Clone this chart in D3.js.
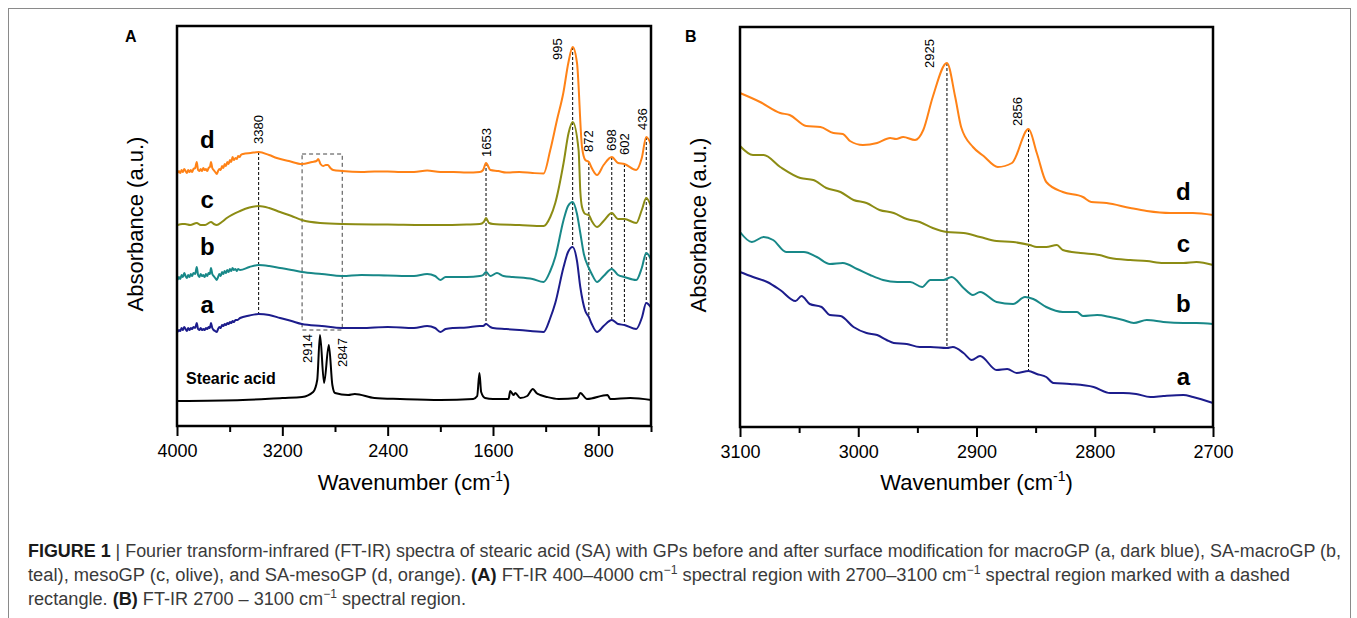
<!DOCTYPE html>
<html>
<head>
<meta charset="utf-8">
<script src="https://cdn.jsdelivr.net/npm/d3@7"></script>
<style>
body{margin:0;background:#fff;}
svg{display:block;font-family:"Liberation Sans",Arial,sans-serif;}
</style>
</head>
<body>
<svg id="chart" width="1357" height="618"></svg>
<script>
// ---- data: [wavenumber cm-1, absorbance a.u. (offset, arbitrary)] ----
const navyA = [[3995,94],[3985,96],[3975,95],[3965,98],[3955,96],[3945,99],[3935,97],[3925,95],[3915,98],[3905,96],[3895,98],[3885,97],[3875,99],[3862,98],[3850,103],[3840,97],[3830,96],[3820,98],[3810,96],[3800,97],[3790,96],[3780,98],[3770,97],[3760,99],[3750,98],[3742,103],[3732,98],[3722,96],[3710,95],[3698,94],[3688,97],[3678,99],[3668,98],[3658,101],[3648,100],[3638,102],[3628,101],[3618,103],[3608,102],[3598,104],[3588,103],[3578,105],[3568,104],[3556,106],[3540,106],[3521,108],[3450,110.5],[3380,112],[3300,111],[3217,108],[3130,105],[3052,102],[2900,100],[2746,98],[2600,98],[2400,99],[2200,98],[2100,100],[2040,98],[2000,94],[1960,97],[1900,98],[1800,98.5],[1700,100],[1675,100],[1653,102],[1620,99],[1600,98],[1500,97],[1400,96],[1216,94],[1165,108],[1127,123],[1064,159],[1030,174],[995,179],[962,165],[937,139],[899,115],[872,109],[850,102],[810,94],[760,100],[698,106],[650,102],[602,101],[512,97],[470,108],[436,123],[398,118]];
const tealA = [[3995,146],[3985,149],[3975,147],[3965,151],[3955,149],[3945,153],[3935,150],[3925,148],[3915,151],[3905,149],[3895,152],[3885,150],[3875,153],[3862,152],[3850,159],[3840,151],[3830,149],[3820,152],[3810,150],[3800,151],[3790,149],[3780,152],[3770,150],[3760,153],[3750,152],[3742,158],[3732,152],[3722,150],[3710,148],[3698,146],[3688,149],[3678,152],[3668,150],[3658,154],[3648,152],[3638,155],[3628,153],[3618,156],[3608,154],[3598,157],[3588,155],[3578,158],[3568,156],[3556,157],[3545,155],[3536,157],[3521,156],[3450,159],[3380,161],[3300,160],[3217,158],[3130,156],[3052,154],[2900,152],[2746,150],[2600,151],[2400,150.5],[2200,150],[2100,152],[2040,150],[2000,146],[1960,149],[1800,149],[1700,150],[1675,151],[1653,154],[1620,150],[1570,153],[1520,150],[1450,149],[1300,147],[1216,144],[1165,155],[1127,169],[1064,206],[1030,220],[995,224],[962,212],[937,193],[910,172],[872,158],[850,152],[810,144],[760,150],[698,157],[650,151],[602,149],[512,146],[470,158],[436,173],[398,166]];
const oliveA = [[3995,201],[3960,202],[3939,202],[3900,201],[3850,203],[3820,201],[3787,201],[3742,204],[3720,202],[3698,201],[3660,204],[3622,208],[3521,215],[3450,218.5],[3380,220],[3300,218],[3217,214],[3130,210],[3052,206],[2913,203],[2746,202],[2400,201.5],[2000,201],[1800,201.5],[1700,202],[1670,204],[1653,208],[1630,203],[1600,202],[1400,201],[1216,200],[1165,209],[1127,223],[1064,263],[1026,293],[995,304],[950,276],[937,235],[924,219],[899,212],[872,211],[850,205],[810,199],[760,205],[698,213],[650,207],[602,207],[512,203],[470,216],[436,228],[398,219]];
const orangeA = [[3995,253],[3985,255],[3975,253],[3965,256],[3955,254],[3945,257],[3935,255],[3925,253],[3915,256],[3905,254],[3895,256],[3885,254],[3875,257],[3862,258],[3850,264],[3840,256],[3830,255],[3820,257],[3810,255],[3800,258],[3790,256],[3780,257],[3770,255],[3760,258],[3750,259],[3742,264],[3732,258],[3722,256],[3710,254],[3698,252],[3688,255],[3678,257],[3668,256],[3658,260],[3648,258],[3638,262],[3628,260],[3618,264],[3608,262],[3598,266],[3588,264],[3578,269],[3568,266],[3556,268],[3545,267],[3536,270],[3525,269],[3515,271],[3498,272],[3440,273],[3380,274],[3300,271],[3242,268],[3150,265],[3052,262],[2974,264],[2940,265],[2928,267],[2910,262],[2890,260],[2870,261],[2855,261],[2835,258],[2814,256],[2746,255],[2600,254],[2500,254.5],[2400,254.5],[2300,254],[2200,254],[2100,255.5],[2000,254],[1900,254],[1800,253.5],[1700,254],[1675,256],[1653,263],[1620,256],[1560,255],[1500,253.5],[1400,254],[1300,253],[1216,252.5],[1165,276],[1114,306],[1066,333],[1028,363],[995,379],[962,363],[924,279],[899,266],[872,264],[850,258],[810,251],[760,261],[698,269],[650,263],[602,262],[512,256],[470,268],[436,289],[398,281]];
const stearicA = [[3995,25],[3500,26],[3200,28],[3050,29],[2966,34],[2935,46],[2914,91],[2883,43],[2847,81],[2820,41],[2800,33],[2700,31],[2650,32],[2500,28],[2305,27],[2000,26],[1750,27],[1720,30],[1703,53],[1690,34],[1660,28],[1600,27],[1482,27],[1469,35],[1444,31],[1431,33],[1393,28],[1340,30],[1297,37],[1270,33],[1241,31],[1190,29],[1102,27],[960,28],[937,33],[886,27],[730,31],[709,27],[557,28],[398,26]];

const navyB = [[3100,155],[3089,150],[3077,145],[3066,137],[3053,126],[3048,131],[3041,123],[3031,120],[3024,112],[3015,111],[3004,100],[2993,94],[2984,92],[2976,87],[2970,84],[2959,83],[2948,80],[2939,80],[2925,79],[2920,80],[2911,74],[2904,67],[2897,71],[2883,57],[2874,58],[2866,54],[2856,56],[2849,53],[2841,50],[2835,44],[2821,43],[2801,40],[2787,34],[2776,34],[2765,33],[2753,30],[2742,31],[2725,32],[2717,30],[2700,24]];
const tealB = [[3100,195],[3090,185],[3080,190],[3072,187],[3061,175],[3046,175],[3035,170],[3024,163],[3013,164],[3001,158],[2990,152],[2979,147],[2967,145],[2956,145],[2946,140],[2939,147],[2928,147],[2921,150],[2911,139],[2903,132],[2897,135],[2883,125],[2869,123],[2859,130],[2852,128],[2841,120],[2827,115],[2815,115],[2810,111],[2798,112],[2787,110],[2776,107],[2767,104],[2756,107],[2742,105],[2725,104],[2714,104],[2700,103]];
const oliveB = [[3100,281],[3089,272],[3080,272],[3066,260],[3049,249],[3038,247],[3027,239],[3015,235],[3004,227],[2993,224],[2982,217],[2970,214],[2959,208],[2948,205],[2937,199],[2925,195],[2911,194],[2897,190],[2883,186],[2869,185],[2855,182],[2849,180],[2841,180],[2832,182],[2827,177],[2812,174],[2796,172],[2787,169],[2770,167],[2756,166],[2742,164],[2725,164],[2714,165],[2700,162]];
const orangeB = [[3100,334],[3083,325],[3066,314],[3058,312],[3044,301],[3032,300],[3021,294],[3013,293],[3007,286],[2996,282],[2984,284],[2973,289],[2968,288],[2962,290],[2952,287],[2945,297],[2937,330],[2925,364],[2918,330],[2913,300],[2903,280],[2894,271],[2882,260],[2870,264],[2856,298],[2849,274],[2841,245],[2827,235],[2810,230],[2803,225],[2790,224],[2770,219],[2756,216],[2736,214],[2717,214],[2700,212]];

const ticksA = [4000,3200,2400,1600,800];
const minorA = [3600,2800,2000,1200,400];
const ticksB = [3100,3000,2900,2800,2700];
const minorB = [3050,2950,2850,2750];
const peaksA = [3380,1653,995,872,698,602,436];
const peaksSA = [2914,2847];
const peaksB = [2925,2856];
const boxA = [[3050,96],[2745,272]];   // dashed rectangle (wavenumber, a.u.)

const COLOR = {a:"#1c1c8c", b:"#188888", c:"#8c8c14", d:"#ff8216", sa:"#000"};
const FONT = "'Liberation Sans',Arial,sans-serif";

const svg = d3.select("#chart");

// outer figure frame
svg.append("rect")
  .attr("x",8.5).attr("y",8.5).attr("width",1342).attr("height",625)
  .attr("fill","none").attr("stroke","#8a8a8a").attr("stroke-width",1);

const xA = d3.scaleLinear().domain([4000,400]).range([177,651]);
const yA = d3.scaleLinear().domain([0,400]).range([426,26]);
const xB = d3.scaleLinear().domain([3100,2700]).range([740,1213]);
const yB = d3.scaleLinear().domain([0,400]).range([427,27]);

const valAt = (arr,w) => d3.least(arr, d => Math.abs(d[0]-w))[1];

function panel(x, y, major, minor, letter, lx){
  const g = svg.append("g");
  const [x0,x1] = x.range(), [y0,y1] = y.range();

  g.append("g")
    .attr("transform",`translate(0,${y0})`)
    .call(d3.axisBottom(x).tickValues(minor).tickSize(6).tickFormat(""))
    .call(s=>s.select(".domain").remove())
    .selectAll("line").attr("stroke","#000").attr("stroke-width",2);

  const ax = g.append("g")
    .attr("transform",`translate(0,${y0})`)
    .call(d3.axisBottom(x).tickValues(major).tickSize(10).tickPadding(8).tickFormat(d3.format("d")))
    .call(s=>s.select(".domain").remove());
  ax.attr("font-family",FONT).attr("font-size",18);
  ax.selectAll("line").attr("stroke","#000").attr("stroke-width",2);
  ax.selectAll("text").attr("fill","#000");

  g.append("text")
    .attr("x",(x0+x1)/2).attr("y",490)
    .attr("text-anchor","middle").attr("font-size",22)
    .call(t=>{
      t.append("tspan").text("Wavenumber (cm");
      t.append("tspan").attr("font-size",14).attr("dy",-9).text("-1");
      t.append("tspan").attr("dy",9).text(")");
    });

  g.append("text")
    .attr("transform",`translate(${x0-34},${(y0+y1)/2-2}) rotate(-90)`)
    .attr("text-anchor","middle").attr("font-size",22)
    .text("Absorbance (a.u.)");

  g.append("text")
    .attr("x",lx).attr("y",42)
    .attr("font-size",16).attr("font-weight","bold")
    .text(letter);

  return g;
}

function curve(g, data, x, y, color){
  g.append("path")
    .datum(data)
    .attr("fill","none")
    .attr("stroke",color)
    .attr("stroke-width",2)
    .attr("stroke-linejoin","round")
    .attr("d", d3.line().x(d=>x(d[0])).y(d=>y(d[1])).curve(d3.curveMonotoneX));
}

function vlabel(g, px, py, txt){
  g.append("text")
    .attr("transform",`translate(${px+4.5},${py}) rotate(-90)`)
    .attr("font-size",13).attr("fill","#000")
    .text(txt);
}

function dashed(g, px, ya, yb){
  g.append("line")
    .attr("x1",px).attr("x2",px).attr("y1",ya).attr("y2",yb)
    .attr("stroke","#000").attr("stroke-width",1)
    .attr("stroke-dasharray","3,2");
}

// ---------------- panel A ----------------
const gA = panel(xA, yA, ticksA, minorA, "A", 125);

gA.append("rect")
  .attr("x",xA(boxA[0][0])).attr("y",yA(boxA[1][1]))
  .attr("width",xA(boxA[1][0])-xA(boxA[0][0]))
  .attr("height",yA(boxA[0][1])-yA(boxA[1][1]))
  .attr("fill","none").attr("stroke","#444").attr("stroke-width",1)
  .attr("stroke-dasharray","4,3");

peaksA.forEach(w=>{
  dashed(gA, xA(w), yA(valAt(orangeA,w)), yA(valAt(navyA,w)));
});

curve(gA, stearicA, xA, yA, COLOR.sa);
curve(gA, navyA, xA, yA, COLOR.a);
curve(gA, tealA, xA, yA, COLOR.b);
curve(gA, oliveA, xA, yA, COLOR.c);
curve(gA, orangeA, xA, yA, COLOR.d);

const offA = {3380:[0,-8],1653:[0,-6],995:[-15,13],872:[0,-10],698:[0,-6],602:[0,-9],436:[-4,-7]};
peaksA.forEach(w=>{
  const o = offA[w];
  vlabel(gA, xA(w)+o[0], yA(valAt(orangeA,w))+o[1], w);
});
const offSA = {2914:[-12,28],2847:[14,22]};
peaksSA.forEach(w=>{
  const o = offSA[w];
  vlabel(gA, xA(w)+o[0], yA(valAt(stearicA,w))+o[1], w);
});

[["d",278],["c",218],["b",171],["a",113]].forEach(([t,v])=>{
  gA.append("text").attr("x",xA(3770)).attr("y",yA(v))
    .attr("text-anchor","middle").attr("font-size",24).attr("font-weight","bold")
    .text(t);
});
gA.append("text").attr("x",xA(3932)).attr("y",yA(42))
  .attr("font-size",16).attr("font-weight","bold").text("Stearic acid");

gA.append("rect")
  .attr("x",177).attr("y",26).attr("width",474).attr("height",400)
  .attr("fill","none").attr("stroke","#000").attr("stroke-width",2.5);

// ---------------- panel B ----------------
const gB = panel(xB, yB, ticksB, minorB, "B", 685);

peaksB.forEach(w=>{
  dashed(gB, xB(w), yB(valAt(orangeB,w)), yB(valAt(navyB,w)));
});

curve(gB, navyB, xB, yB, COLOR.a);
curve(gB, tealB, xB, yB, COLOR.b);
curve(gB, oliveB, xB, yB, COLOR.c);
curve(gB, orangeB, xB, yB, COLOR.d);

const offB = {2925:[-17,5],2856:[-11,-3]};
peaksB.forEach(w=>{
  const o = offB[w];
  vlabel(gB, xB(w)+o[0], yB(valAt(orangeB,w))+o[1], w);
});

[["d",227],["c",175],["b",115],["a",42]].forEach(([t,v])=>{
  gB.append("text").attr("x",xB(2725)).attr("y",yB(v))
    .attr("text-anchor","middle").attr("font-size",24).attr("font-weight","bold")
    .text(t);
});

gB.append("rect")
  .attr("x",740).attr("y",27).attr("width",473).attr("height",400)
  .attr("fill","none").attr("stroke","#000").attr("stroke-width",2.5);

// ---------------- caption ----------------
const cap = svg.append("g")
  .attr("font-family",FONT)
  .attr("font-size",18).attr("fill","#3a3a3a");

function capLine(y, len, parts){
  const t = cap.append("text").attr("x",28).attr("y",y)
    .attr("textLength",len).attr("lengthAdjust","spacingAndGlyphs");
  parts.forEach(p=>{
    const s = t.append("tspan").text(p[0]);
    if(p[1]==="b") s.attr("font-weight","bold").attr("fill","#1a1a1a");
    if(p[1]==="sup") s.attr("font-size",12).attr("dy",-7);
    if(p[1]==="down") s.attr("dy",7);
  });
}
capLine(557, 1313, [
  ["FIGURE 1","b"],[" | Fourier transform-infrared (FT-IR) spectra of stearic acid (SA) with GPs before and after surface modification for macroGP (a, dark blue), SA-macroGP (b,"]
]);
capLine(581, 1262, [
  ["teal), mesoGP (c, olive), and SA-mesoGP (d, orange). "],["(A)","b"],[" FT-IR 400–4000 cm"],["−1","sup"],[" spectral region with 2700–3100 cm","down"],["−1","sup"],[" spectral region marked with a dashed","down"]
]);
capLine(605, 438, [
  ["rectangle. "],["(B)","b"],[" FT-IR 2700 – 3100 cm"],["−1","sup"],[" spectral region.","down"]
]);
</script>
</body>
</html>
